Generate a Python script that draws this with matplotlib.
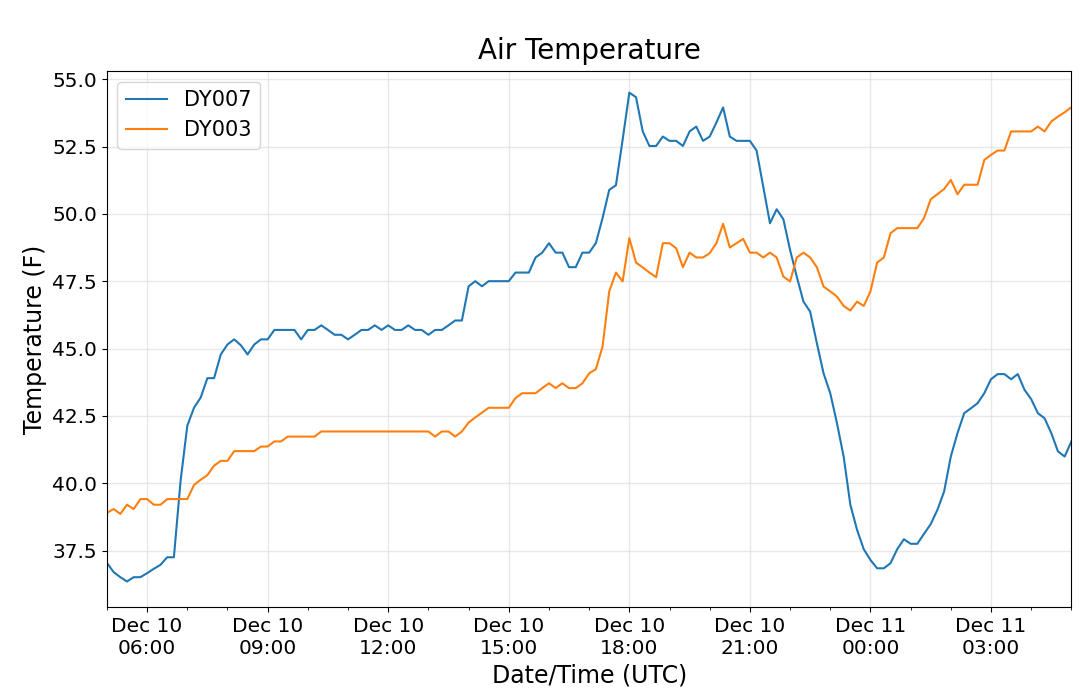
import matplotlib
matplotlib.use("Agg")
import matplotlib.pyplot as plt
import matplotlib.dates as mdates
import pandas as pd

# 10-minute readings, Dec 10 05:00 UTC -> Dec 11 05:00 UTC
times = pd.date_range("2018-12-10 05:00", "2018-12-11 05:00", freq="10min")

dy007 = [
    37.04, 36.70, 36.51, 36.35, 36.51, 36.51,   # 05:00
    36.66, 36.82, 36.97, 37.25, 37.25, 40.09,   # 06:00
    42.13, 42.80, 43.18, 43.90, 43.90, 44.78,   # 07:00
    45.15, 45.34, 45.12, 44.78, 45.15, 45.34,   # 08:00
    45.34, 45.69, 45.69, 45.69, 45.69, 45.34,   # 09:00
    45.69, 45.69, 45.86, 45.69, 45.51, 45.51,   # 10:00
    45.34, 45.51, 45.69, 45.69, 45.86, 45.69,   # 11:00
    45.86, 45.69, 45.69, 45.86, 45.69, 45.69,   # 12:00
    45.51, 45.69, 45.69, 45.86, 46.04, 46.04,   # 13:00
    47.31, 47.50, 47.31, 47.50, 47.50, 47.50,   # 14:00
    47.50, 47.82, 47.82, 47.82, 48.38, 48.56,   # 15:00
    48.91, 48.56, 48.56, 48.02, 48.02, 48.56,   # 16:00
    48.56, 48.91, 49.84, 50.89, 51.06, 52.75,   # 17:00
    54.50, 54.33, 53.06, 52.52, 52.52, 52.87,   # 18:00
    52.71, 52.71, 52.52, 53.06, 53.24, 52.71,   # 19:00
    52.87, 53.39, 53.95, 52.87, 52.71, 52.71,   # 20:00
    52.71, 52.35, 51.01, 49.65, 50.17, 49.80,   # 21:00
    48.66, 47.67, 46.74, 46.37, 45.20, 44.08,   # 22:00
    43.34, 42.23, 40.99, 39.20, 38.27, 37.55,   # 23:00
    37.15, 36.84, 36.84, 37.03, 37.55, 37.92,   # 00:00
    37.75, 37.75, 38.12, 38.48, 39.01, 39.69,   # 01:00
    40.99, 41.86, 42.60, 42.78, 42.97, 43.34,   # 02:00
    43.86, 44.05, 44.05, 43.86, 44.05, 43.47,   # 03:00
    43.12, 42.60, 42.41, 41.86, 41.18, 40.99,   # 04:00
    41.55,                                      # 05:00
]

dy003 = [
    38.90, 39.04, 38.86, 39.20, 39.04, 39.41,   # 05:00
    39.41, 39.20, 39.20, 39.41, 39.41, 39.41,   # 06:00
    39.41, 39.93, 40.13, 40.30, 40.65, 40.83,   # 07:00
    40.83, 41.19, 41.19, 41.19, 41.19, 41.36,   # 08:00
    41.36, 41.55, 41.55, 41.73, 41.73, 41.73,   # 09:00
    41.73, 41.73, 41.92, 41.92, 41.92, 41.92,   # 10:00
    41.92, 41.92, 41.92, 41.92, 41.92, 41.92,   # 11:00
    41.92, 41.92, 41.92, 41.92, 41.92, 41.92,   # 12:00
    41.92, 41.73, 41.92, 41.92, 41.73, 41.92,   # 13:00
    42.25, 42.44, 42.62, 42.80, 42.80, 42.80,   # 14:00
    42.80, 43.16, 43.34, 43.34, 43.34, 43.53,   # 15:00
    43.71, 43.53, 43.71, 43.53, 43.53, 43.71,   # 16:00
    44.08, 44.23, 45.07, 47.12, 47.82, 47.49,   # 17:00
    49.10, 48.19, 48.01, 47.82, 47.65, 48.91,   # 18:00
    48.91, 48.72, 48.02, 48.56, 48.38, 48.38,   # 19:00
    48.54, 48.91, 49.63, 48.75, 48.91, 49.07,   # 20:00
    48.56, 48.56, 48.38, 48.56, 48.38, 47.67,   # 21:00
    47.49, 48.38, 48.56, 48.38, 48.02, 47.30,   # 22:00
    47.12, 46.93, 46.58, 46.41, 46.74, 46.58,   # 23:00
    47.12, 48.19, 48.38, 49.28, 49.47, 49.47,   # 00:00
    49.47, 49.47, 49.84, 50.54, 50.73, 50.92,   # 01:00
    51.26, 50.73, 51.08, 51.08, 51.08, 52.00,   # 02:00
    52.19, 52.35, 52.35, 53.06, 53.06, 53.06,   # 03:00
    53.06, 53.24, 53.06, 53.43, 53.61, 53.77,   # 04:00
    53.96,                                      # 05:00
]

series_names = ["DY007", "DY003"]
colors = ["#1f77b4", "#ff7f0e"]

fig = plt.figure(figsize=(10.8, 6.97), dpi=100)
ax = fig.add_axes([0.099, 0.129, 0.893, 0.769])

for vals, name, c in zip([dy007, dy003], series_names, colors):
    ax.plot(times, vals, color=c, linewidth=1.5, label=name)

ax.set_xlim(times[0], times[-1])
ax.set_ylim(35.4, 55.3)
ax.set_yticks([37.5, 40.0, 42.5, 45.0, 47.5, 50.0, 52.5, 55.0])
ax.yaxis.set_major_formatter(matplotlib.ticker.FormatStrFormatter("%.1f"))

ax.xaxis.set_major_locator(mdates.HourLocator(byhour=range(0, 24, 3)))
ax.xaxis.set_minor_locator(mdates.HourLocator())
ax.xaxis.set_major_formatter(mdates.DateFormatter("%b %d\n%H:%M"))
for lbl in ax.get_xticklabels():
    lbl.set_ha("center")

ax.grid(True, which="major", color="#d9d9d9", linewidth=1.0, alpha=0.6)
ax.tick_params(axis="both", which="major", labelsize=14.5)

ax.set_title("Air Temperature", fontsize=20, pad=8.5)
ax.set_xlabel("Date/Time (UTC)", fontsize=17)
ax.set_ylabel("Temperature (F)", fontsize=17)
ax.legend(loc="upper left", fontsize=15)

fig.savefig("out.png", dpi=100)
